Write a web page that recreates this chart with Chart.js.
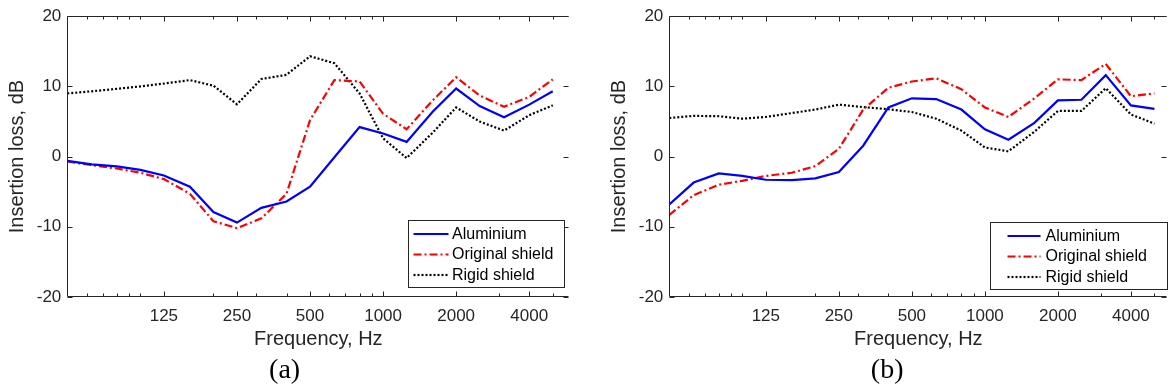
<!DOCTYPE html>
<html>
<head>
<meta charset="utf-8">
<script src="https://cdn.jsdelivr.net/npm/chart.js@4.4.1/dist/chart.umd.min.js"></script>
<style>
  html, body { margin: 0; padding: 0; background: #fff; }
  #wrap { position: relative; width: 1171px; height: 392px; overflow: hidden; }
  #wrap canvas { position: absolute; top: 0; }
</style>
</head>
<body>
<div id="wrap">
  <canvas id="chartA" width="585" height="392" style="left:0"></canvas>
  <canvas id="chartB" width="586" height="392" style="left:585px"></canvas>
</div>
<script>
// 1/3 octave band centre frequencies, Hz
const bands = [50, 63, 80, 100, 125, 160, 200, 250, 315, 400, 500, 630, 800, 1000, 1250, 1600, 2000, 2500, 3150, 4000, 5000];

// (a)
const aluA   = [-0.6, -1.1, -1.4, -1.9, -2.7, -4.3, -7.9, -9.4, -7.3, -6.4, -4.3, -0.1, 4.2, 3.3, 2.1, 6.4, 9.7, 7.2, 5.6, 7.4, 9.3];
const origA  = [-0.7, -1.2, -1.7, -2.3, -3.2, -5.3, -9.2, -10.2, -8.8, -5.3, 5.2, 10.9, 10.7, 6.1, 3.9, 8.0, 11.3, 8.7, 7.1, 8.5, 11.0];
const rigidA = [9.0, 9.3, 9.65, 10.0, 10.4, 10.9, 10.1, 7.45, 11.05, 11.65, 14.3, 13.3, 9.0, 2.6, -0.2, 3.4, 7.0, 5.0, 3.7, 5.9, 7.3];

// (b)
const aluB   = [-6.8, -3.7, -2.4, -2.75, -3.3, -3.35, -3.1, -2.2, 1.55, 7.0, 8.3, 8.2, 6.7, 3.9, 2.4, 4.8, 8.0, 8.1, 11.6, 7.3, 6.8];
const origB  = [-8.3, -5.5, -4.0, -3.45, -2.75, -2.3, -1.35, 1.1, 6.7, 9.8, 10.7, 11.15, 9.6, 7.0, 5.65, 8.3, 11.0, 10.9, 13.2, 8.6, 9.0];
const rigidB = [5.5, 5.8, 5.75, 5.4, 5.65, 6.2, 6.7, 7.4, 7.05, 6.75, 6.35, 5.4, 3.7, 1.3, 0.75, 3.55, 6.5, 6.5, 9.75, 6.0, 4.7];

const seriesNames = ['Aluminium', 'Original shield', 'Rigid shield'];
const xTickLabels = [125, 250, 500, 1000, 2000, 4000];
const xMinorTicks = [60, 70, 80, 90, 100, 200, 300, 400, 600, 700, 800, 900, 3000, 5000];
const yTicks = [-20, -10, 0, 10, 20];

const axisColor = '#262626';
const sans = "'Liberation Sans', Arial, sans-serif";

// axes box, inward ticks and the boxed legend, MATLAB style
const boxPlugin = {
  id: 'boxPlugin',
  afterDraw(chart, args, opts) {
    const ctx = chart.ctx;
    const a = chart.chartArea;
    const xs = chart.scales.x, ys = chart.scales.y;
    ctx.save();
    ctx.strokeStyle = axisColor;
    ctx.lineWidth = 1;
    ctx.beginPath();
    const L = Math.round(a.left) + 0.5, R = Math.round(a.right) - 0.5;
    const T = Math.round(a.top) + 0.5, B = Math.round(a.bottom) - 0.5;
    ctx.moveTo(L, T); ctx.lineTo(R, T);
    ctx.moveTo(L, T); ctx.lineTo(L, B); ctx.lineTo(R, B);
    xs.ticks.forEach(t => {
      const px = Math.round(xs.getPixelForValue(t.value)) + 0.5;
      const len = xTickLabels.includes(t.value) ? 5 : 3;
      ctx.moveTo(px, B); ctx.lineTo(px, B - len);
      ctx.moveTo(px, T); ctx.lineTo(px, T + len);
    });
    ys.ticks.forEach(t => {
      const py = Math.round(ys.getPixelForValue(t.value)) + 0.5;
      ctx.moveTo(L, py); ctx.lineTo(L + 5, py);
      ctx.moveTo(R, py); ctx.lineTo(R - 5, py);
    });
    ctx.stroke();

    // legend
    const w = opts.width, h = 67;
    const bx = Math.round(a.right - opts.right - w) + 0.5;
    const by = Math.round(a.bottom - opts.bottom - h) + 0.5;
    ctx.fillStyle = '#fff';
    ctx.fillRect(bx, by, w, h);
    ctx.strokeRect(bx, by, w, h);
    ctx.font = '16px ' + sans;
    ctx.textBaseline = 'middle';
    ctx.textAlign = 'left';
    chart.data.datasets.forEach((ds, i) => {
      const ry = by + 13.5 + i * 20.5;
      ctx.save();
      ctx.strokeStyle = ds.borderColor;
      ctx.lineWidth = ds.borderWidth;
      ctx.setLineDash(ds.borderDash || []);
      ctx.beginPath();
      ctx.moveTo(bx + opts.lineStart, ry);
      ctx.lineTo(bx + opts.lineStart + opts.lineLen, ry);
      ctx.stroke();
      ctx.restore();
      ctx.fillStyle = '#000';
      ctx.fillText(ds.label, bx + opts.lineStart + opts.lineLen + opts.gap, ry + 0.5);
    });
    ctx.restore();
  }
};

function makeData(alu, orig, rigid) {
  const pts = arr => bands.map((f, i) => ({ x: f, y: arr[i] }));
  return {
    datasets: [
      { label: seriesNames[0], data: pts(alu), borderColor: '#0000ff', borderWidth: 2.2, borderDash: [] },
      { label: seriesNames[1], data: pts(orig), borderColor: '#ff0000', borderWidth: 2.2, borderDash: [8, 3, 2, 3] },
      { label: seriesNames[2], data: pts(rigid), borderColor: '#000000', borderWidth: 2.2, borderDash: [2, 2] }
    ]
  };
}

function makeChart(id, caption, data, lay) {
  return new Chart(document.getElementById(id), {
    type: 'line',
    data: data,
    plugins: [boxPlugin],
    options: {
      responsive: false,
      animation: false,
      devicePixelRatio: 1,
      layout: { padding: { left: lay.padLeft, right: lay.padRight, top: 11, bottom: 0 } },
      elements: { point: { radius: 0 }, line: { tension: 0, borderCapStyle: 'butt' } },
      plugins: {
        legend: { display: false },
        tooltip: { enabled: false },
        title: {
          display: true, position: 'bottom', text: caption, color: '#000',
          font: { family: "'Liberation Serif', 'Times New Roman', serif", size: 28, weight: 'normal' },
          padding: { top: 0, bottom: 4.5 }
        },
        boxPlugin: lay.legend
      },
      scales: {
        x: {
          type: 'logarithmic', min: 50, max: lay.xMax,
          afterBuildTicks: s => {
            s.ticks = xMinorTicks.concat(xTickLabels).sort((p, q) => p - q).map(v => ({ value: v }));
          },
          afterFit: s => { s.height = 56.9; },
          grid: { display: false, drawTicks: false },
          border: { display: false },
          ticks: {
            autoSkip: false, maxRotation: 0, minRotation: 0, padding: 9,
            color: axisColor, font: { family: sans, size: 17 },
            callback: v => xTickLabels.includes(v) ? String(v) : ''
          },
          title: {
            display: true, text: 'Frequency, Hz', color: axisColor,
            font: { family: sans, size: 20 }, padding: { top: 0, bottom: 2.6 }
          }
        },
        y: {
          min: -20, max: 20,
          afterBuildTicks: s => { s.ticks = yTicks.map(v => ({ value: v })); },
          afterFit: s => { s.width = lay.yWidth; },
          grid: { display: false, drawTicks: false },
          border: { display: false },
          ticks: { padding: 6, color: axisColor, font: { family: sans, size: 17 } },
          title: {
            display: true, text: 'Insertion loss, dB', color: axisColor,
            font: { family: sans, size: 20 }, padding: { top: lay.yTitlePad, bottom: 0 }
          }
        }
      }
    }
  });
}

makeChart('chartA', '(a)', makeData(aluA, origA, rigidA), {
  padLeft: 0, padRight: 15.7, yWidth: 67.3, yTitlePad: 5, xMax: 5850,
  legend: { width: 156, right: 5, bottom: 9.7, lineStart: 5, lineLen: 35, gap: 3.5 }
});
makeChart('chartB', '(b)', makeData(aluB, origB, rigidB), {
  padLeft: 22, padRight: 3.7, yWidth: 62.3, yTitlePad: 0, xMax: 5650,
  legend: { width: 177, right: 0.6, bottom: 7.7, lineStart: 17, lineLen: 33, gap: 5 }
});
</script>
</body>
</html>
